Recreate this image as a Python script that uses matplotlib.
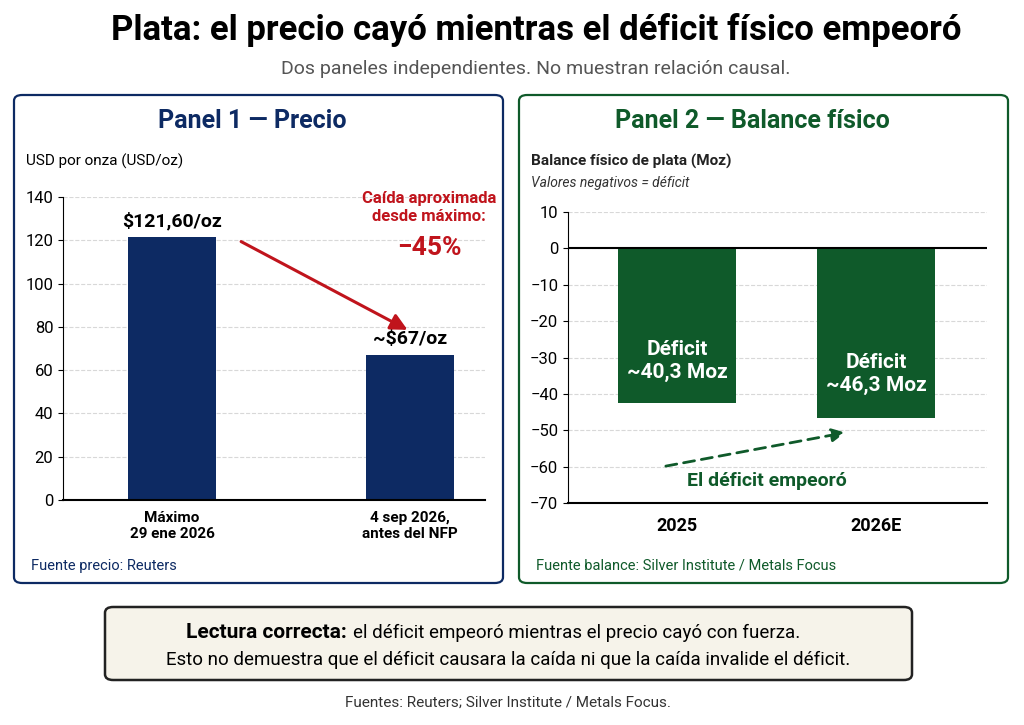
import matplotlib
matplotlib.use("Agg")
import matplotlib.pyplot as plt
from matplotlib.patches import FancyBboxPatch

# ---- datos ----
precio_cats = ["Máximo\n29 ene 2026", "4 sep 2026,\nantes del NFP"]
precio_vals = [121.6, 67.0]
precio_labels = ["$121,60/oz", "~$67/oz"]

balance_cats = ["2025", "2026E"]
balance_vals = [-42.5, -46.5]   # altura dibujada en la imagen
balance_labels = ["Déficit\n~40,3 Moz", "Déficit\n~46,3 Moz"]

AZUL = "#0d2a63"
VERDE = "#0f5a2a"
ROJO = "#c0141c"

plt.rcParams['font.family'] = ['Roboto', 'DejaVu Sans']

W, H = 1024, 725
fig = plt.figure(figsize=(W / 100, H / 100), dpi=100)

def fx(px): return px / W
def fy(py): return 1 - py / H

def caja(x0, y0, x1, y1, color, fc="white", lw=1.6):
    p = FancyBboxPatch((fx(x0), fy(y1)), fx(x1) - fx(x0), fy(y0) - fy(y1),
                       boxstyle="round,pad=0,rounding_size=0.008",
                       transform=fig.transFigure, fc=fc, ec=color, lw=lw, zorder=-5)
    fig.patches.append(p)

# titulos
fig.text(fx(536), fy(30), "Plata: el precio cayó mientras el déficit físico empeoró",
         ha="center", va="center", fontsize=25, fontweight="bold", color="black")
fig.text(fx(536), fy(69), "Dos paneles independientes. No muestran relación causal.",
         ha="center", va="center", fontsize=14, color="#555555")

caja(14, 95, 503, 583, AZUL)
caja(519, 95, 1008, 583, VERDE)

# ---- Panel 1 ----
fig.text(fx(252), fy(121), "Panel 1 — Precio", ha="center", va="center",
         fontsize=18, fontweight="bold", color=AZUL)
fig.text(fx(26), fy(161), "USD por onza (USD/oz)", ha="left", va="center", fontsize=11)
ax1 = fig.add_axes([fx(63), fy(500), fx(485) - fx(63), fy(197) - fy(500)])
ax1.patch.set_alpha(0)
x1 = range(len(precio_vals))
ax1.bar(x1, precio_vals, width=0.37, color=AZUL, zorder=2)
ax1.set_xlim(-0.458, 1.315)
ax1.set_ylim(0, 140)
ax1.set_yticks(range(0, 141, 20))
ax1.yaxis.grid(True, ls="--", color="#d8d8d8", lw=0.8, zorder=0)
ax1.set_axisbelow(True)
ax1.set_xticks(list(x1))
ax1.set_xticklabels(precio_cats, fontsize=11, fontweight="bold")
ax1.tick_params(axis="y", labelsize=12)
ax1.tick_params(axis="x", length=0, pad=8)
for s in ["top", "right"]:
    ax1.spines[s].set_visible(False)
ax1.spines["bottom"].set_linewidth(1.5)
for i, (v, lab) in enumerate(zip(precio_vals, precio_labels)):
    ax1.text(i, v + 3, lab, ha="center", va="bottom", fontsize=14, fontweight="bold")
ax1.annotate("", xy=(1.0, 78), xytext=(0.28, 120),
             arrowprops=dict(arrowstyle="-|>,head_length=1.0,head_width=0.5",
                             color=ROJO, lw=2.2))
ax1.text(1.08, 143, "Caída aproximada\ndesde máximo:", ha="center", va="top",
         fontsize=12, fontweight="bold", color=ROJO, linespacing=1.3)
ax1.text(1.08, 122, "−45%", ha="center", va="top", fontsize=19,
         fontweight="bold", color=ROJO)
fig.text(fx(31), fy(566), "Fuente precio: Reuters", ha="left", va="center",
         fontsize=10.5, color=AZUL)

# ---- Panel 2 ----
fig.text(fx(752), fy(121), "Panel 2 — Balance físico", ha="center", va="center",
         fontsize=18, fontweight="bold", color=VERDE)
fig.text(fx(531), fy(161), "Balance físico de plata (Moz)", ha="left", va="center",
         fontsize=11, fontweight="bold", color="#222222")
fig.text(fx(531), fy(183), "Valores negativos = déficit", ha="left", va="center",
         fontsize=10, style="italic", color="#333333")
ax2 = fig.add_axes([fx(568), fy(503), fx(987) - fx(568), fy(212) - fy(503)])
ax2.patch.set_alpha(0)
x2 = range(len(balance_vals))
ax2.bar(x2, balance_vals, width=0.59, color=VERDE, zorder=2)
ax2.set_xlim(-0.548, 1.558)
ax2.set_ylim(-70, 10)
ax2.set_yticks(range(-70, 11, 10))
ax2.set_yticklabels([str(t).replace("-", "−") for t in range(-70, 11, 10)])
ax2.yaxis.grid(True, ls="--", color="#d8d8d8", lw=0.8, zorder=0)
ax2.set_axisbelow(True)
ax2.axhline(0, color="black", lw=1.5, zorder=3)
ax2.set_xticks(list(x2))
ax2.set_xticklabels(balance_cats, fontsize=13, fontweight="bold")
ax2.tick_params(axis="y", labelsize=12)
ax2.tick_params(axis="x", length=0, pad=10)
for s in ["top", "right"]:
    ax2.spines[s].set_visible(False)
ax2.spines["bottom"].set_linewidth(1.5)
for i, (v, lab) in enumerate(zip(balance_vals, balance_labels)):
    ax2.text(i, -31 - 3.5 * i, lab, ha="center", va="center", fontsize=15,
             fontweight="bold", color="white", linespacing=1.3)
ax2.annotate("", xy=(0.86, -50.5), xytext=(-0.07, -60),
             arrowprops=dict(arrowstyle="-|>,head_length=0.8,head_width=0.4",
                             color=VERDE, lw=2, ls=(0, (4, 2.5))))
ax2.text(0.45, -64, "El déficit empeoró", ha="center", va="center", fontsize=14,
         fontweight="bold", color=VERDE)
fig.text(fx(536), fy(566), "Fuente balance: Silver Institute / Metals Focus",
         ha="left", va="center", fontsize=10.5, color=VERDE)

# ---- lectura correcta ----
caja(105, 607, 912, 680, "#222222", fc="#f6f3ea", lw=1.8)
t_bold = fig.text(fx(186), fy(633), "Lectura correcta:", ha="left", va="center",
                  fontsize=15, fontweight="bold")
fig.canvas.draw()
bb = t_bold.get_window_extent()
fig.text(bb.x1 / W + fx(6), fy(633), "el déficit empeoró mientras el precio cayó con fuerza.",
         ha="left", va="center", fontsize=13.5)
fig.text(fx(508), fy(660), "Esto no demuestra que el déficit causara la caída ni que la caída invalide el déficit.",
         ha="center", va="center", fontsize=13.5)
fig.text(fx(508), fy(703), "Fuentes: Reuters; Silver Institute / Metals Focus.",
         ha="center", va="center", fontsize=11, color="#333333")

fig.savefig("out.png", dpi=100)
